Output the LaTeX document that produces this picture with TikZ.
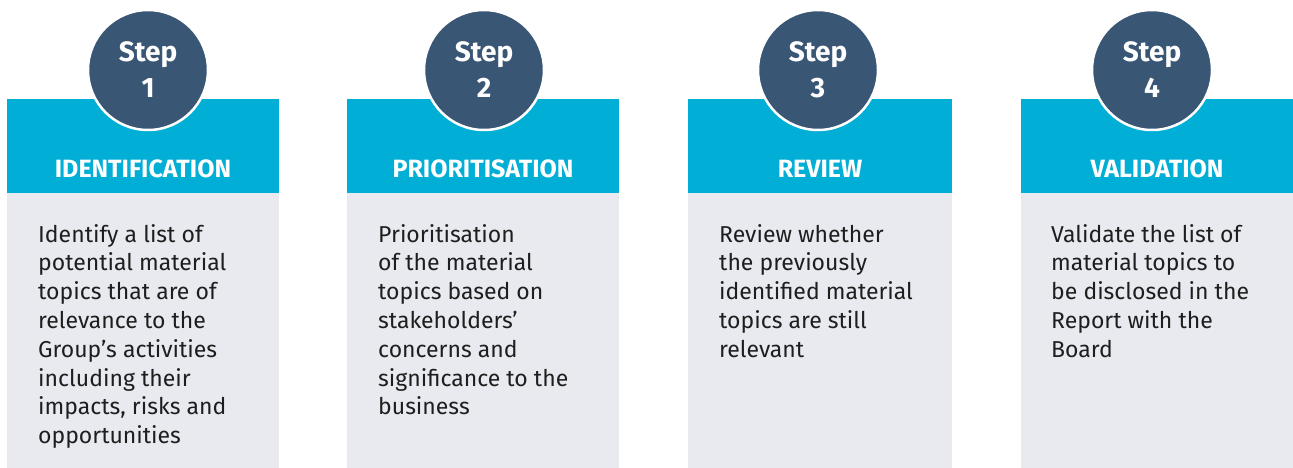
\documentclass[tikz,border=0pt]{standalone}
\usepackage{fontspec}
\setmainfont{Fira Sans}
\usepackage{xcolor}
\definecolor{stepblue}{HTML}{3A5675}
\definecolor{headcyan}{HTML}{00AED6}
\definecolor{bodygray}{HTML}{E9EAF0}
\definecolor{bodyink}{HTML}{1E1E1E}

\begin{document}
\begin{tikzpicture}[x=1pt,y=-1pt,
    bodybox/.style={fill=bodygray, inner sep=0, minimum height=275, anchor=north west},
    headbox/.style={fill=headcyan, inner sep=0, minimum height=94, anchor=north west},
    stepcircle/.style={circle, fill=stepblue, draw=white, line width=2.5pt, minimum size=120,
        inner sep=0, text=white, align=center, font=\bfseries\fontsize{28}{36}\selectfont},
    headtext/.style={text=white, inner sep=0, anchor=base, font=\bfseries\fontsize{25}{28}\selectfont},
    bodytext/.style={text=bodyink, inner sep=0, anchor=base west, align=left, font=\fontsize{23}{28.8}\selectfont}]
        \useasboundingbox (0,0) rectangle (1293,468);
        % 绘制底板
        \node[bodybox, minimum width=272] (b1) at (7,193) {};
        \node[bodybox, minimum width=272] (b2) at (347,193) {};
        \node[bodybox, minimum width=264] (b3) at (688,193) {};
        \node[bodybox, minimum width=272] (b4) at (1021,193) {};
        % 绘制标题栏
        \node[headbox, minimum width=272] (h1) at (7,99) {};
        \node[headbox, minimum width=272] (h2) at (347,99) {};
        \node[headbox, minimum width=264] (h3) at (688,99) {};
        \node[headbox, minimum width=272] (h4) at (1021,99) {};
        % 绘制步骤圆
        \node[stepcircle] (c1) at (148,70) {Step\\1};
        \node[stepcircle] (c2) at (484,70) {Step\\2};
        \node[stepcircle] (c3) at (818,70) {Step\\3};
        \node[stepcircle] (c4) at (1152,70) {Step\\4};
        % 标记标题
        \node[headtext] (t1) at (143,178) {IDENTIFICATION};
        \node[headtext] (t2) at (483,178) {PRIORITISATION};
        \node[headtext] (t3) at (820,178) {REVIEW};
        \node[headtext] (t4) at (1157,178) {VALIDATION};
        % 标记说明（基线取最后一行）
        \node[bodytext] (d1) at (38,443.6) {Identify a list of\\potential material\\topics that are of\\relevance to the\\Group’s activities\\including their\\impacts, risks and\\opportunities};
        \node[bodytext] (d2) at (378,414.8) {Prioritisation\\of the material\\topics based on\\stakeholders’\\concerns and\\significance to the\\business};
        \node[bodytext] (d3) at (719,357.2) {Review whether\\the previously\\identified material\\topics are still\\relevant};
        \node[bodytext] (d4) at (1051,357.2) {Validate the list of\\material topics to\\be disclosed in the\\Report with the\\Board};
    \end{tikzpicture}
\end{document}
